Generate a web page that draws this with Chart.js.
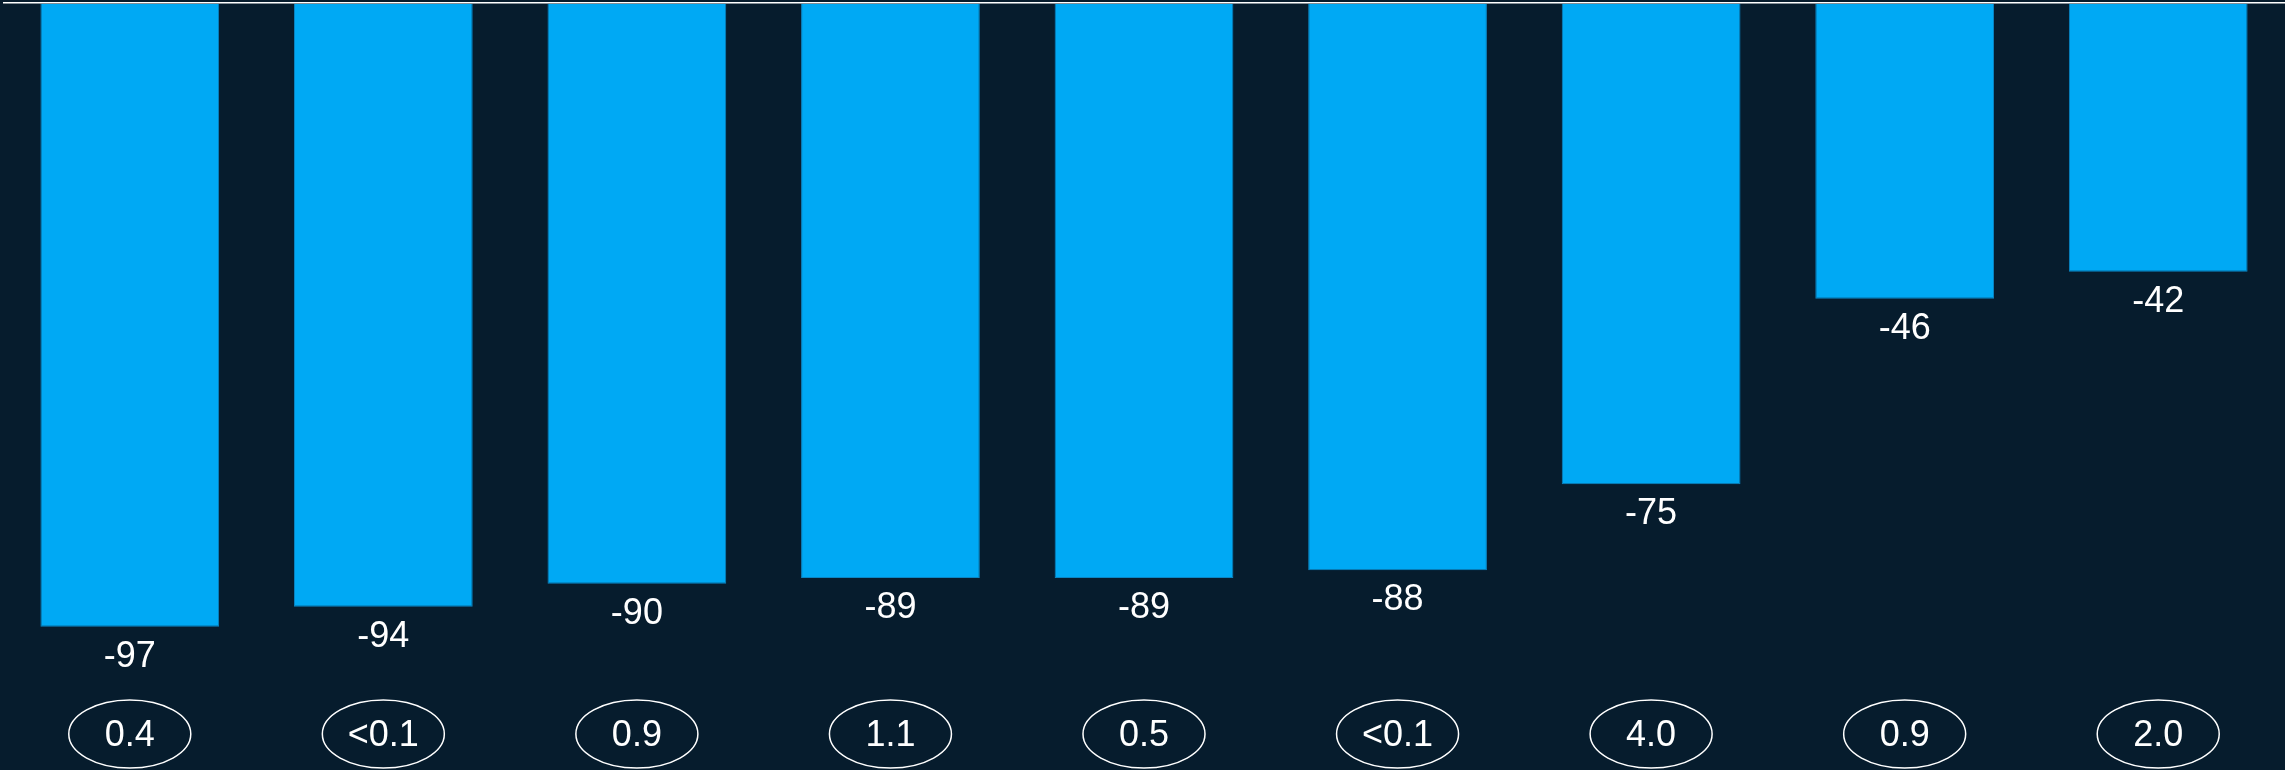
<!DOCTYPE html>
<html>
<head>
<meta charset="utf-8">
<script src="https://cdn.jsdelivr.net/npm/chart.js@4"></script>
<style>
  html, body { margin: 0; padding: 0; background: #061c2d; }
  canvas { display: block; }
</style>
</head>
<body>
<canvas id="barChart" width="2285" height="770"></canvas>
<script>
// --- Data ---
const categories = ['A', 'B', 'C', 'D', 'E', 'F', 'G', 'H', 'I'];
const changeValues = [-97, -93.9, -90.3, -89.4, -89.4, -88.2, -74.8, -45.9, -41.7];
const ovalLabels = ['0.4', '<0.1', '0.9', '1.1', '0.5', '<0.1', '4.0', '0.9', '2.0'];

const FONT = '36px "Liberation Sans", Arial, sans-serif';

// top rule, value labels under bars, and the oval badges at the bottom
const annotate = {
    id: 'annotate',
    afterDatasetsDraw(chart) {
        const c = chart.ctx;
        const area = chart.chartArea;
        const meta = chart.getDatasetMeta(0);

        c.save();
        c.strokeStyle = '#ffffff';
        c.lineWidth = 1.5;
        c.beginPath();
        c.moveTo(area.left, 2.75);
        c.lineTo(chart.width, 2.75);
        c.stroke();

        c.fillStyle = '#ffffff';
        c.font = FONT;
        c.textAlign = 'center';
        c.textBaseline = 'middle';
        meta.data.forEach((bar, i) => {
            c.fillText(String(Math.round(changeValues[i])), bar.x, bar.y + 30);
        });

        const xScale = chart.scales.x;
        ovalLabels.forEach((txt, i) => {
            const x = xScale.getPixelForValue(i);
            const y = 734;
            c.beginPath();
            c.ellipse(x, y, 61, 34, 0, 0, Math.PI * 2);
            c.lineWidth = 1.5;
            c.stroke();
            c.fillText(txt, x, y + 2);
        });
        c.restore();
    }
};

const ctx = document.getElementById('barChart').getContext('2d');
new Chart(ctx, {
    type: 'bar',
    data: {
        labels: categories,
        datasets: [{
            data: changeValues,
            backgroundColor: '#00a9f4',
            borderColor: '#0b86c4',
            borderWidth: 1,
            categoryPercentage: 1,
            barPercentage: 0.705
        }]
    },
    options: {
        responsive: false,
        animation: false,
        layout: { padding: { left: 3, right: 0, top: 4, bottom: 124 } },
        plugins: {
            legend: { display: false },
            tooltip: { enabled: false }
        },
        scales: {
            x: { display: false },
            y: { display: false, min: -100, max: 0 }
        }
    },
    plugins: [annotate]
});
</script>
</body>
</html>
